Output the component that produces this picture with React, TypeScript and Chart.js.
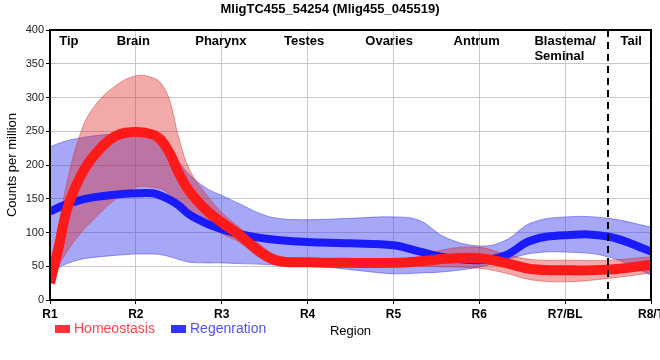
import React, { useEffect, useRef } from 'react';
import { Chart, registerables } from 'chart.js';

Chart.register(...registerables);

const FONT = "'Liberation Sans', Arial, Helvetica, sans-serif";

const chartTitle = 'MligTC455_54254 (Mlig455_045519)';
const xTickLabels = ['R1', 'R2', 'R3', 'R4', 'R5', 'R6', 'R7/BL', 'R8/T'];
const regionNames = ['Tip', 'Brain', 'Pharynx', 'Testes', 'Ovaries', 'Antrum', 'Blastema/\nSeminal', 'Tail'];
const regionAt = [1.22, 1.97, 2.99, 3.96, 4.95, 5.97, 7.0, 7.77];
const dividerAt = 7.5;
const seriesNames = ['Homeostasis', 'Regenration'];
const yAxisTitle = 'Counts per million';
const xAxisTitle = 'Region';

const xs = [1, 1.1, 1.2, 1.35, 1.5, 1.75, 2, 2.2, 2.3, 2.4, 2.5, 2.63, 2.83, 3, 3.2, 3.45, 3.65, 4, 4.5, 5, 5.3, 5.6, 6, 6.3, 6.6, 7, 7.5, 8];
const homeMean = [25, 78, 135, 182, 212, 242, 249, 245, 236, 216, 188, 160, 132, 115, 97, 71, 58, 56, 55, 55, 57, 61, 62, 55, 46, 44, 45, 52];
const homeUpper = [28, 105, 175, 245, 284, 316, 332, 329, 320, 293, 240, 192, 155, 130, 108, 82, 66, 61, 60, 60, 64, 75, 78, 68, 60, 59, 59, 64];
const homeLower = [22, 50, 72, 98, 118, 148, 167, 167, 164, 156, 146, 132, 112, 98, 86, 62, 52, 50, 49, 49, 50, 49, 47, 40, 30, 27, 32, 40];
const regMean = [131, 137, 142, 148, 152, 156, 158, 158, 154, 148, 140, 126, 113, 105, 98, 92, 89, 86, 84, 81, 72, 63, 59, 66, 88, 96, 94, 72];
const regUpper = [227, 232, 236, 240, 243, 246, 247, 246, 240, 224, 205, 185, 165, 155, 143, 128, 121, 119, 121, 123, 118, 93, 80, 88, 114, 123, 121, 108];
const regLower = [40, 48, 54, 60, 63, 66, 68, 68, 67, 64, 60, 56, 55, 55, 54, 53, 52, 52, 45, 39, 40, 42, 49, 59, 69, 71, 64, 37];

const RED = '#ff1a1a';
const BLUE = '#1a1aff';
const RED_BAND = 'rgba(220,40,40,0.40)';
const BLUE_BAND = 'rgba(60,60,240,0.45)';
const RED_EDGE = 'rgba(220,40,40,0.45)';
const BLUE_EDGE = 'rgba(60,60,240,0.5)';

const pts = (arr: number[]) => xs.map((x, i) => ({ x, y: arr[i] }));

const decorPlugin = {
  id: 'decor',
  afterDraw(chart: any) {
    const { ctx, chartArea: a, scales } = chart;
    const xs_ = scales.x;
    ctx.save();
    ctx.strokeStyle = '#000';
    ctx.lineWidth = 2;
    ctx.setLineDash([]);
    ctx.strokeRect(a.left, a.top, a.right - a.left, a.bottom - a.top);
    const dx = Math.round(xs_.getPixelForValue(dividerAt));
    ctx.setLineDash([7, 5]);
    ctx.beginPath();
    ctx.moveTo(dx, a.top);
    ctx.lineTo(dx, a.bottom + 4);
    ctx.stroke();
    ctx.setLineDash([]);
    ctx.fillStyle = '#000';
    ctx.font = `bold 13px ${FONT}`;
    ctx.textBaseline = 'middle';
    regionNames.forEach((name, i) => {
      const lines = name.split('\n');
      const px = xs_.getPixelForValue(regionAt[i]);
      if (lines.length > 1) {
        const w = ctx.measureText(lines[0]).width;
        ctx.textAlign = 'left';
        lines.forEach((ln, j) => ctx.fillText(ln, px - w / 2, a.top + 11 + j * 15));
      } else {
        ctx.textAlign = 'center';
        ctx.fillText(name, px, a.top + 11);
      }
    });
    ctx.textAlign = 'center';
    ctx.font = `bold 13px ${FONT}`;
    ctx.fillText(chartTitle, 330, 9);
    const ly = 329;
    ctx.font = `13px ${FONT}`;
    ctx.fillStyle = '#000';
    ctx.fillText(xAxisTitle, (a.left + a.right) / 2, ly + 2);
    const items = [
      { text: seriesNames[0], box: '#ff3333', color: '#ff4545', x: 55 },
      { text: seriesNames[1], box: '#3333ff', color: '#5050ff', x: 171 },
    ];
    ctx.font = `14px ${FONT}`;
    ctx.textAlign = 'left';
    items.forEach((it) => {
      ctx.fillStyle = it.box;
      ctx.fillRect(it.x, ly - 4, 15, 8);
      ctx.fillStyle = it.color;
      ctx.fillText(it.text, it.x + 19, ly);
    });
    ctx.restore();
  },
};

export default function App() {
  const ref = useRef<HTMLCanvasElement | null>(null);
  useEffect(() => {
    document.body.style.margin = '0';
    const canvas = ref.current;
    if (!canvas) return;
    const lineBase = {
      pointRadius: 0,
      tension: 0.4,
      fill: false,
    };
    const chart = new Chart(canvas, {
      type: 'line',
      data: {
        datasets: [
          { ...lineBase, label: seriesNames[0], data: pts(homeMean), borderColor: RED, backgroundColor: RED, borderWidth: 10 },
          { ...lineBase, label: seriesNames[1], data: pts(regMean), borderColor: BLUE, backgroundColor: BLUE, borderWidth: 8 },
          { ...lineBase, label: 'hu', data: pts(homeUpper), borderColor: RED_EDGE, backgroundColor: RED_BAND, borderWidth: 1, fill: '+1' },
          { ...lineBase, label: 'hl', data: pts(homeLower), borderColor: RED_EDGE, backgroundColor: RED_BAND, borderWidth: 1 },
          { ...lineBase, label: 'ru', data: pts(regUpper), borderColor: BLUE_EDGE, backgroundColor: BLUE_BAND, borderWidth: 1, fill: '+1' },
          { ...lineBase, label: 'rl', data: pts(regLower), borderColor: BLUE_EDGE, backgroundColor: BLUE_BAND, borderWidth: 1 },
        ],
      },
      options: {
        responsive: false,
        animation: false,
        events: [],
        layout: { padding: { top: 30, right: 9, left: 0, bottom: 40 } },
        plugins: {
          legend: { display: false },
          tooltip: { enabled: false },
          title: { display: false },
        },
        scales: {
          x: {
            type: 'linear',
            min: 1,
            max: 8,
            afterFit: (s: any) => {
              s.height = 20;
              s.paddingLeft = 0;
              s.paddingRight = 0;
            },
            ticks: {
              stepSize: 1,
              autoSkip: false,
              maxRotation: 0,
              padding: 3,
              color: '#000',
              font: { family: FONT, size: 12, weight: 'bold' },
              callback: (v: any) => xTickLabels[Math.round(Number(v)) - 1] ?? '',
            },
            grid: { color: '#c8c8c8', lineWidth: 1, tickLength: 4, tickColor: '#000' },
            border: { color: '#000', width: 2 },
          },
          y: {
            min: 0,
            max: 400,
            afterFit: (s: any) => {
              s.width = 50;
            },
            ticks: {
              stepSize: 50,
              padding: 2,
              color: '#222',
              font: { family: FONT, size: 11 },
            },
            grid: { color: '#c8c8c8', lineWidth: 1, tickLength: 4, tickColor: '#000' },
            border: { color: '#000', width: 2 },
            title: {
              display: true,
              text: yAxisTitle,
              color: '#000',
              font: { family: FONT, size: 13 },
              padding: { top: 5, bottom: 0 },
            },
          },
        },
      },
      plugins: [decorPlugin],
    });
    return () => chart.destroy();
  }, []);
  return (
    <div style={{ width: 660, height: 360 }}>
      <canvas ref={ref} width={660} height={360} style={{ display: 'block', width: 660, height: 360 }} />
    </div>
  );
}
